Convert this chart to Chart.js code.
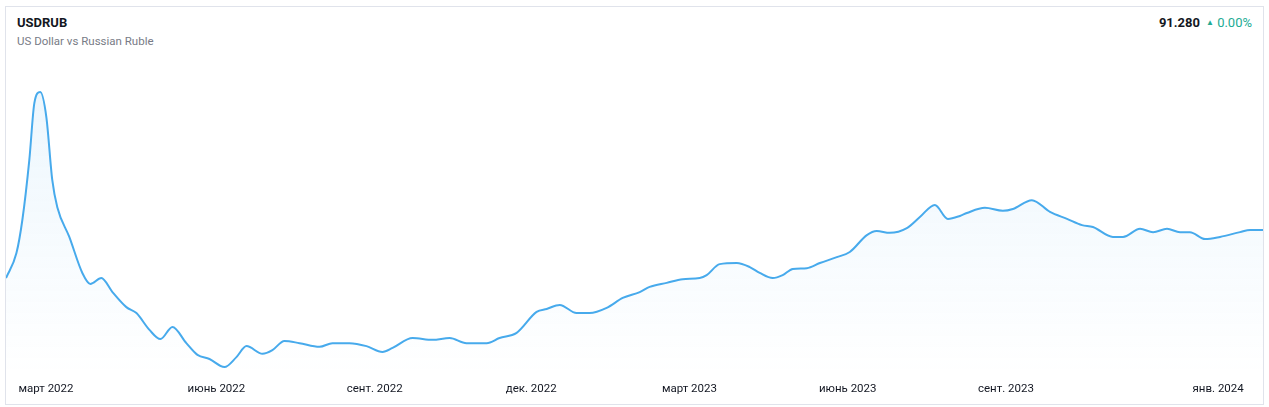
<!DOCTYPE html>
<html lang="ru">
<head>
    <meta charset="UTF-8">
    <title>USDRUB</title>
    <style>
        body { margin: 0; background: #fff; font-family: Roboto, "Noto Sans", sans-serif; }
        .frame {
            position: absolute; left: 5px; top: 6px; width: 1259px; height: 399px;
            border: 1px solid #e0e3eb; box-sizing: border-box;
        }
        .symbol { position: absolute; left: 17px; top: 15px; font-size: 13px; font-weight: bold; color: #131722; }
        .desc { position: absolute; left: 17px; top: 34px; font-size: 11.5px; color: #787b86; }
        .quote { position: absolute; right: 17px; top: 15px; font-size: 13px; white-space: nowrap; }
        .quote .last { font-weight: bold; color: #131722; }
        .quote .chg { color: #22ab94; margin-left: 6px; }
        .quote .arrow { font-size: 8px; position: relative; top: -2px; }
        #wrap { position: absolute; left: 6px; top: 50px; width: 1257px; height: 355px; }
    </style>
    <script src="https://cdn.jsdelivr.net/npm/chart.js"></script>
</head>
<body>
    <div class="frame"></div>
    <div class="symbol">USDRUB</div>
    <div class="desc">US Dollar vs Russian Ruble</div>
    <div class="quote"><span class="last">91.280</span><span class="chg"><span class="arrow">&#9650;</span> 0.00%</span></div>
    <div id="wrap"><canvas id="rubChart"></canvas></div>

    <script>
        // days counted from 1 Jan 2022
        const days = [30, 36, 39.4, 43.4, 46.3, 49.7, 53.2, 56.6, 59.5, 66.4, 73.9, 78.5, 84.8, 91.2, 99.2, 105,
            112.5, 118.8, 125.7, 133.7, 140.1, 147, 155.6, 162.5, 168.3, 177.5, 183.2, 190.1, 198.8, 210.3, 217.7,
            227.5, 237.3, 246.5, 252.3, 263.8, 275.3, 285.1, 294.8, 306.4, 313.8, 323.6, 335.1, 340.9, 348.4, 358.1,
            365.6, 375.4, 384.6, 394.4, 400.1, 409.9, 419.1, 428.9, 432.9, 440.4, 450.2, 457.7, 463.4, 470.9, 476.6,
            482.4, 490.5, 498, 507.7, 515.2, 525, 530.7, 538.2, 548, 555.5, 564.1, 571.6, 578.5, 582.5, 592.9, 603.2,
            609, 619.9, 630.3, 640.1, 648.7, 655, 666.5, 672.3, 682.1, 689.6, 697.6, 705.1, 710.8, 719.5, 728.1,
            739.6, 745.4, 752.8];
        const rates = [78.2, 85.0, 94.0, 110.3, 125.8, 128.8, 122.0, 104.9, 97.5, 89.4, 79.6, 76.6, 78.2, 74.4, 70.3, 68.7,
            64.1, 61.6, 64.9, 60.5, 57.3, 56.2, 54.0, 56.7, 59.7, 57.6, 58.6, 61.1, 60.5, 59.5, 60.5,
            60.5, 59.7, 58.1, 59.2, 61.9, 61.4, 61.9, 60.5, 60.5, 61.9, 63.3, 69.0, 69.8, 70.9, 68.7,
            68.7, 70.1, 72.8, 74.4, 75.8, 76.9, 77.9, 78.2, 79.0, 82.0, 82.3, 81.2, 79.6, 78.2, 79.0,
            80.7, 80.9, 82.3, 83.9, 85.3, 89.9, 91.0, 90.5, 91.8, 94.8, 98.1, 94.3, 95.1, 95.9, 97.3, 96.5,
            97.0, 99.4, 96.2, 94.3, 92.6, 92.1, 89.4, 89.4, 91.6, 90.7, 91.6, 90.7, 90.7, 88.8, 89.4,
            90.7, 91.28, 91.28];
        const tickDays = [53, 151, 242, 332, 423, 514, 605, 727];
        const tickLabels = ['март 2022', 'июнь 2022', 'сент. 2022', 'дек. 2022', 'март 2023', 'июнь 2023', 'сент. 2023', 'янв. 2024'];

        const points = days.map((d, i) => ({ x: d, y: rates[i] }));

        const ctx = document.getElementById('rubChart').getContext('2d');
        new Chart(ctx, {
            type: 'line',
            data: {
                datasets: [{
                    label: 'USDRUB',
                    data: points,
                    borderColor: '#47aaec',
                    borderWidth: 2,
                    pointRadius: 0,
                    cubicInterpolationMode: 'monotone',
                    fill: 'start',
                    backgroundColor: (c) => {
                        const area = c.chart.chartArea;
                        if (!area) return 'rgba(71,170,236,0.06)';
                        const g = c.chart.ctx.createLinearGradient(0, area.top, 0, area.bottom);
                        g.addColorStop(0, 'rgba(71,170,236,0.11)');
                        g.addColorStop(1, 'rgba(71,170,236,0.0)');
                        return g;
                    }
                }]
            },
            options: {
                responsive: true,
                maintainAspectRatio: false,
                animation: false,
                layout: { padding: { top: 10, left: 0, right: 0, bottom: 0 } },
                plugins: { legend: { display: false }, tooltip: { enabled: false } },
                scales: {
                    x: {
                        type: 'linear',
                        min: days[0],
                        max: days[days.length - 1],
                        grid: { display: false },
                        border: { display: false },
                        afterBuildTicks: (s) => { s.ticks = tickDays.map(v => ({ value: v })); },
                        afterFit: (s) => { s.height = 30; },
                        ticks: {
                            autoSkip: false,
                            maxRotation: 0,
                            padding: -1,
                            color: '#131722',
                            font: { family: 'Roboto', size: 11.5 },
                            callback: (v, i) => tickLabels[i]
                        }
                    },
                    y: {
                        display: false,
                        min: 51.84,
                        max: 137.52
                    }
                }
            }
        });
    </script>
</body>
</html>
